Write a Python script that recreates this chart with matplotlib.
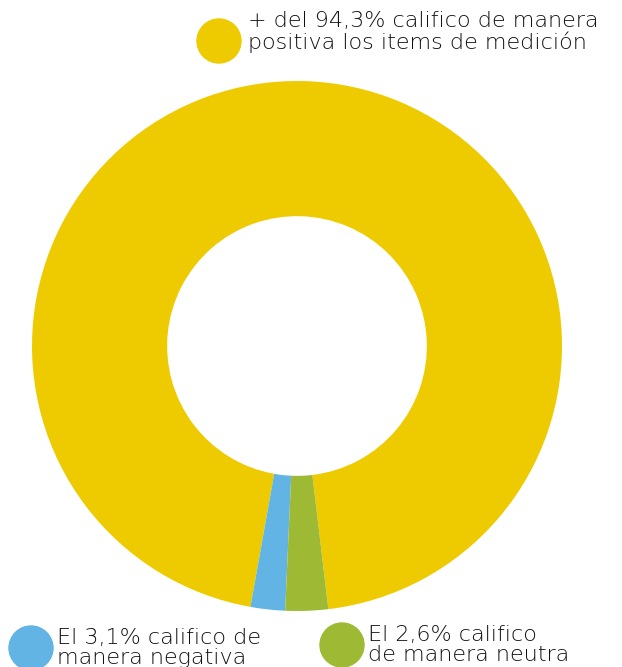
import matplotlib.pyplot as plt
from matplotlib.patches import Circle

# slice sizes as they look in the picture (yellow, blue, green)
sizes = [95.3, 2.1, 2.6]
colors = ['#EECB00', '#62B4E4', '#9EBA34']

# legend texts
labels = ['+ del 94,3% califico de manera\npositiva los items de medición',
          'El 3,1% califico de\nmanera negativa',
          'El 2,6% califico\nde manera neutra']

W, H = 622, 667
fig = plt.figure(figsize=(W / 100, H / 100), dpi=100)
fig.patch.set_facecolor('white')

# donut
cx, cy, r = 297, 346, 265
ax = fig.add_axes([(cx - r) / W, (H - cy - r) / H, 2 * r / W, 2 * r / H])
ax.pie(sizes, colors=colors, startangle=276.8, counterclock=True,
       radius=1, wedgeprops=dict(width=0.51, edgecolor='none'))
ax.set_xlim(-1, 1)
ax.set_ylim(-1, 1)
ax.axis('off')

# overlay in pixel coords for the legend bits
ov = fig.add_axes([0, 0, 1, 1])
ov.set_xlim(0, W)
ov.set_ylim(H, 0)
ov.axis('off')

txt_kw = dict(color='#111111', fontsize=16, family='DejaVu Sans',
              weight='light', va='center', ha='left', linespacing=1.0)

ov.add_patch(Circle((219, 41), 22, color=colors[0], clip_on=False))
ov.text(248, 32, labels[0], **txt_kw)

ov.add_patch(Circle((31, 648), 22, color=colors[1], clip_on=False))
ov.text(57, 648, labels[1], **txt_kw)

ov.add_patch(Circle((342, 645), 22, color=colors[2], clip_on=False))
ov.text(368, 645, labels[2], **txt_kw)

fig.savefig('out.png', dpi=100)
